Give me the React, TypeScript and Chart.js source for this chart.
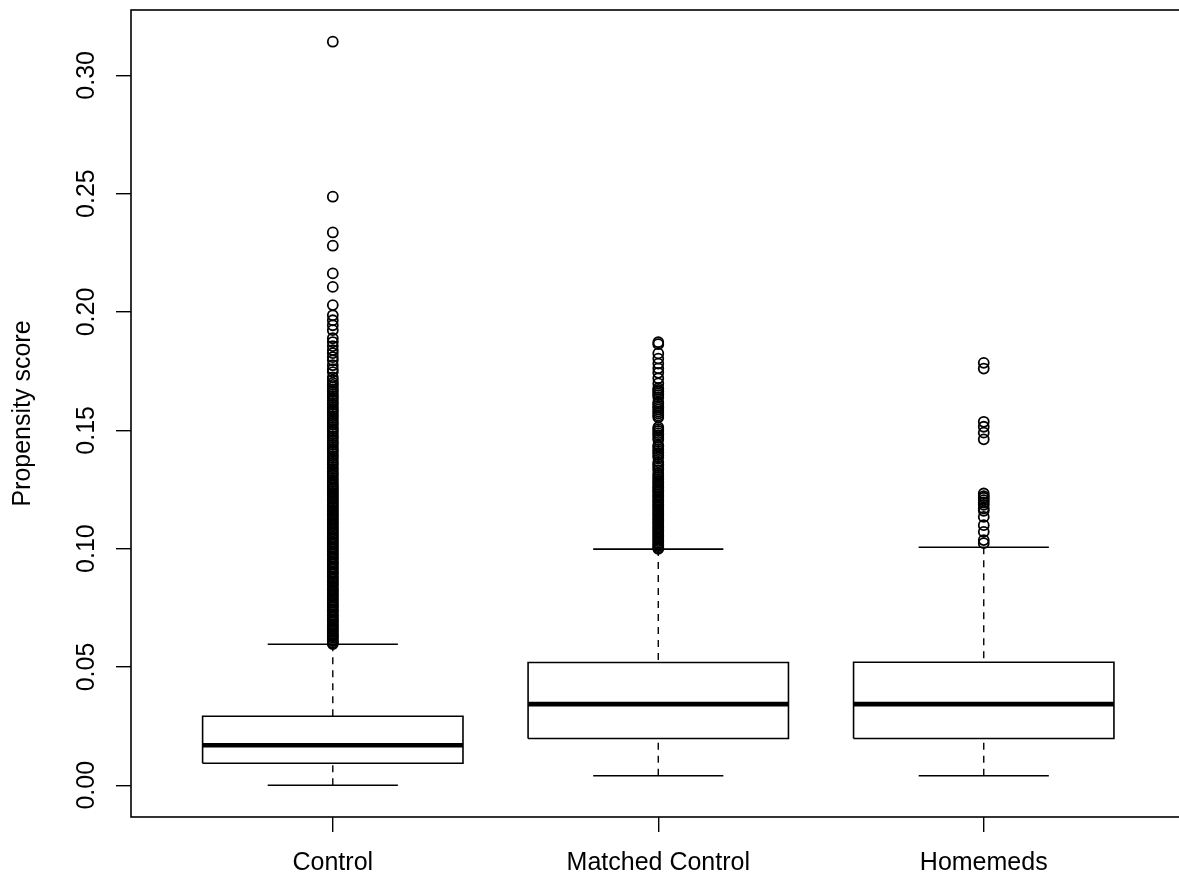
import { useEffect, useRef } from 'react';
import { Chart, registerables } from 'chart.js';

Chart.register(...registerables);

const categories = ['Control', 'Matched Control', 'Homemeds'];
const lowerWhisker = [0.0, 0.004, 0.004];
const q1 = [0.0093, 0.0198, 0.0198];
const median = [0.0169, 0.0343, 0.0343];
const q3 = [0.0292, 0.0519, 0.052];
const upperWhisker = [0.0596, 0.0998, 0.1006];

const yTickValues = [0, 0.05, 0.1, 0.15, 0.2, 0.25, 0.3];
const yTickLabels = ['0.00', '0.05', '0.10', '0.15', '0.20', '0.25', '0.30'];

const controlOutliers = [
  0.0597, 0.0602, 0.0609, 0.0615, 0.0623, 0.0629, 0.0634, 0.0641, 0.0649, 0.0654,
  0.0662, 0.0668, 0.0675, 0.0681, 0.069, 0.0696, 0.0701, 0.0709, 0.0716, 0.0722,
  0.0731, 0.0737, 0.0743, 0.0752, 0.0758, 0.0763, 0.0771, 0.0779, 0.0784, 0.0792,
  0.08, 0.0805, 0.0813, 0.0821, 0.0826, 0.0833, 0.0842, 0.0848, 0.0855, 0.0861,
  0.0869, 0.0876, 0.0882, 0.0891, 0.0897, 0.0903, 0.0911, 0.0918, 0.0924, 0.0933,
  0.0939, 0.0945, 0.0954, 0.096, 0.0966, 0.0975, 0.0981, 0.0988, 0.0996, 0.1002,
  0.1008, 0.1017, 0.1023, 0.103, 0.1038, 0.1044, 0.1051, 0.1059, 0.1065, 0.1073,
  0.108, 0.1086, 0.1094, 0.1101, 0.1108, 0.1115, 0.1122, 0.1129, 0.1137, 0.1143,
  0.115, 0.1158, 0.1164, 0.1172, 0.1179, 0.1186, 0.1193, 0.12, 0.1208, 0.1214,
  0.1222, 0.1229, 0.1236, 0.1243, 0.1251, 0.1257, 0.1265, 0.1272,
  0.1281, 0.129, 0.1298, 0.1309, 0.1317, 0.1326, 0.1336, 0.1344, 0.1355, 0.1363,
  0.1372, 0.1383, 0.1391, 0.14, 0.1411, 0.1419, 0.1428, 0.1439, 0.1447, 0.1456,
  0.1467, 0.1475, 0.1485, 0.1496, 0.1504, 0.1513, 0.1524, 0.1532, 0.1541, 0.1552,
  0.156, 0.157, 0.158, 0.1588, 0.1597, 0.1608, 0.1616, 0.1626, 0.1636, 0.1644,
  0.1653, 0.1664, 0.1672, 0.1682, 0.1692, 0.17, 0.1712,
  0.1724, 0.1746, 0.1758, 0.1775, 0.1796, 0.1809, 0.1826, 0.1839, 0.1856, 0.1873,
  0.1889, 0.1923, 0.1944, 0.1965, 0.1986, 0.2029, 0.2106, 0.2163, 0.228, 0.2336,
  0.2487, 0.3142,
];

const matchedOutliers = [
  0.0999, 0.1005, 0.1011, 0.1019, 0.1025, 0.1032, 0.104, 0.1046, 0.1053, 0.1061,
  0.1067, 0.1074, 0.1082, 0.1088, 0.1095, 0.1103, 0.1109, 0.1117, 0.1124, 0.113,
  0.1138, 0.1145, 0.1151, 0.1159, 0.1166, 0.1173, 0.118, 0.1187, 0.1194, 0.1201,
  0.1208, 0.1216, 0.1222, 0.1229, 0.1237, 0.1244, 0.125, 0.1257,
  0.1262, 0.127, 0.1278, 0.1285, 0.1293, 0.1302, 0.131, 0.1318,
  0.1332, 0.134, 0.1349, 0.1357, 0.1365,
  0.1386, 0.1395, 0.1404, 0.1412, 0.142, 0.143, 0.1437,
  0.146, 0.147, 0.148, 0.1488, 0.1497, 0.1505, 0.1513,
  0.1555, 0.1562, 0.1571, 0.1579, 0.1588, 0.1596, 0.1603, 0.1612, 0.1619,
  0.164, 0.1649, 0.1656, 0.1664, 0.1671, 0.1678,
  0.1698, 0.172, 0.1743, 0.1762, 0.1782, 0.1803, 0.1825, 0.1864, 0.1872,
];

const homemedsOutliers = [
  0.1023, 0.1036, 0.1071, 0.1099, 0.1134, 0.116, 0.117, 0.1185, 0.1195, 0.1205,
  0.1215, 0.1222, 0.1233, 0.1462, 0.149, 0.1515, 0.1536, 0.1761, 0.1785,
];

const outliers = [controlOutliers, matchedOutliers, homemedsOutliers];

const FONT = "'Liberation Sans', Arial, sans-serif";
const BOX_HALF = 0.4;
const CAP_HALF = 0.2;
// R plot region in x units is 0.38..3.62; the picture is cut off before its right edge
const PLOT_X_MIN = 0.38;
const PLOT_X_MAX = 3.62;
const VISIBLE_X_MAX = 3.579;

function buildDatasets() {
  const ds: any[] = [];
  const lineBase = {
    showLine: true,
    pointRadius: 0,
    pointHoverRadius: 0,
    fill: false,
    tension: 0,
    borderColor: '#000',
    backgroundColor: '#000',
  };
  categories.forEach((_, i) => {
    const x = i + 1;
    ds.push({
      ...lineBase,
      borderWidth: 1.4,
      borderDash: [7, 6],
      data: [{ x, y: upperWhisker[i] }, { x, y: q3[i] }],
    });
    ds.push({
      ...lineBase,
      borderWidth: 1.4,
      borderDash: [7, 6],
      data: [{ x, y: lowerWhisker[i] }, { x, y: q1[i] }],
    });
    ds.push({
      ...lineBase,
      borderWidth: 1.6,
      data: [{ x: x - CAP_HALF, y: upperWhisker[i] }, { x: x + CAP_HALF, y: upperWhisker[i] }],
    });
    ds.push({
      ...lineBase,
      borderWidth: 1.6,
      data: [{ x: x - CAP_HALF, y: lowerWhisker[i] }, { x: x + CAP_HALF, y: lowerWhisker[i] }],
    });
    ds.push({
      ...lineBase,
      borderWidth: 1.6,
      borderJoinStyle: 'miter',
      data: [
        { x: x - BOX_HALF, y: q1[i] },
        { x: x + BOX_HALF, y: q1[i] },
        { x: x + BOX_HALF, y: q3[i] },
        { x: x - BOX_HALF, y: q3[i] },
        { x: x - BOX_HALF, y: q1[i] },
      ],
    });
    ds.push({
      ...lineBase,
      borderWidth: 4.6,
      borderCapStyle: 'butt',
      data: [{ x: x - BOX_HALF, y: median[i] }, { x: x + BOX_HALF, y: median[i] }],
    });
    ds.push({
      showLine: false,
      data: outliers[i].map((v) => ({ x, y: v })),
      pointStyle: 'circle',
      pointRadius: 5,
      pointHoverRadius: 5,
      pointBorderWidth: 1.8,
      pointBorderColor: '#000',
      pointBackgroundColor: 'rgba(0,0,0,0)',
    });
  });
  return ds;
}

const framePlugin = {
  id: 'frame',
  afterDraw(chart: any) {
    const { ctx, chartArea } = chart;
    const xs = chart.scales.x;
    const left = xs.getPixelForValue(PLOT_X_MIN);
    const right = xs.getPixelForValue(PLOT_X_MAX);
    ctx.save();
    ctx.strokeStyle = '#000';
    ctx.lineWidth = 1.6;
    ctx.strokeRect(left, chartArea.top, right - left, chartArea.bottom - chartArea.top);
    ctx.restore();
  },
};

export default function App() {
  const ref = useRef<HTMLCanvasElement>(null);
  useEffect(() => {
    if (!ref.current) return;
    const chart = new Chart(ref.current, {
      type: 'scatter',
      data: { datasets: buildDatasets() },
      options: {
        animation: false,
        responsive: false,
        devicePixelRatio: 1,
        layout: { padding: { top: 10, right: 0, bottom: 0, left: 0 } },
        plugins: {
          legend: { display: false },
          tooltip: { enabled: false },
        },
        events: [],
        scales: {
          x: {
            type: 'linear',
            min: PLOT_X_MIN,
            max: VISIBLE_X_MAX,
            afterBuildTicks: (s: any) => {
              s.ticks = categories.map((_, i) => ({ value: i + 1 }));
            },
            afterFit: (s: any) => {
              s.height = 65;
              s.paddingLeft = 0;
              s.paddingRight = 0;
            },
            ticks: {
              autoSkip: false,
              maxRotation: 0,
              minRotation: 0,
              padding: 16,
              color: '#000',
              font: { family: FONT, size: 25 },
              callback: (v: any) => categories[Math.round(v) - 1] ?? '',
            },
            grid: {
              display: true,
              drawOnChartArea: false,
              drawTicks: true,
              tickLength: 15,
              color: '#000',
              lineWidth: 1.4,
            },
            border: { display: false },
          },
          y: {
            type: 'linear',
            min: -0.0134,
            max: 0.3276,
            afterBuildTicks: (s: any) => {
              s.ticks = yTickValues.map((v) => ({ value: v }));
            },
            afterFit: (s: any) => {
              s.width = 131;
              s.paddingTop = 0;
              s.paddingBottom = 0;
            },
            ticks: {
              autoSkip: false,
              minRotation: 90,
              maxRotation: 90,
              crossAlign: 'center',
              padding: 5,
              color: '#000',
              font: { family: FONT, size: 25 },
              callback: (v: any) => {
                const idx = yTickValues.findIndex((t) => Math.abs(t - v) < 1e-9);
                return idx >= 0 ? yTickLabels[idx] : '';
              },
            },
            grid: {
              display: true,
              drawOnChartArea: false,
              drawTicks: true,
              tickLength: 15,
              color: '#000',
              lineWidth: 1.4,
            },
            border: { display: false },
            title: {
              display: true,
              text: 'Propensity score',
              color: '#000',
              font: { family: FONT, size: 25 },
              padding: { top: 8, bottom: 0 },
            },
          },
        },
      },
      plugins: [framePlugin],
    } as any);
    return () => chart.destroy();
  }, []);
  return (
    <div
      style={{
        position: 'fixed',
        left: 0,
        top: 0,
        width: 1179,
        height: 882,
        overflow: 'hidden',
        background: '#fff',
      }}
    >
      <canvas ref={ref} width={1179} height={882} style={{ display: 'block' }} />
    </div>
  );
}
